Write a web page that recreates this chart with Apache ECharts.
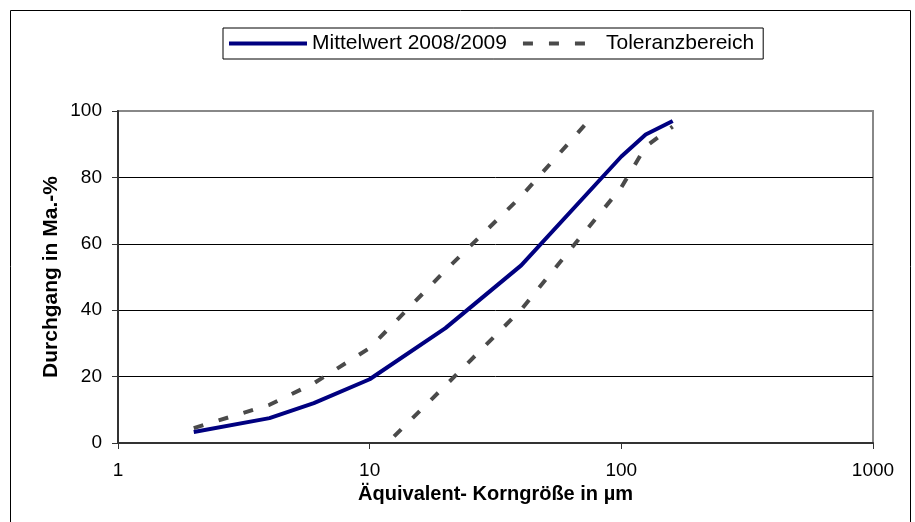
<!DOCTYPE html>
<html>
<head>
<meta charset="utf-8">
<script src="https://cdn.jsdelivr.net/npm/echarts@6/dist/echarts.min.js"></script>
<style>
  html, body { margin: 0; padding: 0; background: #fff; }
  #chart { width: 915px; height: 522px; }
</style>
</head>
<body>
<div id="chart"></div>
<script>
// grain size (µm) and passing (Ma.-%)
const meanSizes  = [2, 4, 6, 10, 20, 40, 100, 125, 160];
const meanValues = [3.3, 7.5, 12, 19.2, 34.6, 53.5, 86.3, 92.9, 97];

const upperSizes  = [2, 4, 6, 10, 20, 40, 75];
const upperValues = [4.5, 11.5, 18, 28.6, 52, 74.3, 97.5];

const lowerSizes  = [12.5, 20, 40, 100, 125, 160];
const lowerValues = [2, 17.3, 40.2, 77, 89.3, 95.3];

const yTicks = [0, 20, 40, 60, 80, 100];

function pairs(xs, ys) { return xs.map((x, i) => [x, ys[i]]); }

const font = "'Liberation Sans', Arial, sans-serif";
const tolStyle = { color: '#4a4a4a', width: 4, type: [10, 16], cap: 'butt' };

const chart = echarts.init(document.getElementById('chart'));

chart.setOption({
   animation: false,
   textStyle: { fontFamily: font },
   graphic: [
      { type: 'rect', shape: { x: 10.5, y: 10.5, width: 900, height: 540 },
        style: { fill: 'none', stroke: '#000', lineWidth: 1 }, silent: true }
   ],
   legend: {
      left: 223, top: 28,
      padding: [5, 9, 5, 4],
      itemWidth: 78, itemHeight: 14, itemGap: 14,
      borderColor: '#000', borderWidth: 1,
      itemStyle: { color: 'transparent', borderColor: 'transparent', borderWidth: 0 },
      lineStyle: { width: 4 },
      textStyle: { fontSize: 21, color: '#000', fontFamily: font },
      data: ['Mittelwert 2008/2009', 'Toleranzbereich']
   },
   grid: {
      left: 118, top: 111, width: 755, height: 332,
      show: true, borderColor: '#888', borderWidth: 2, backgroundColor: 'transparent'
   },
   xAxis: {
      type: 'log', logBase: 10, min: 1, max: 1000,
      name: 'Äquivalent- Korngröße in µm',
      nameLocation: 'middle', nameGap: 40,
      nameTextStyle: { fontSize: 20, fontWeight: 'bold', color: '#000', fontFamily: font },
      axisLine: { lineStyle: { color: '#333', width: 2 } },
      axisTick: { inside: false, length: 6, lineStyle: { color: '#333' } },
      minorTick: { show: false },
      splitLine: { show: false },
      axisLabel: { fontSize: 19, color: '#000', margin: 18, fontFamily: font,
                   formatter: v => String(Math.round(v)) }
   },
   yAxis: {
      type: 'value', min: 0, max: 100, interval: 20,
      name: 'Durchgang in Ma.-%',
      nameLocation: 'middle', nameGap: 56, nameRotate: 90, nameMoveOverlap: false,
      nameTextStyle: { fontSize: 21, fontWeight: 'bold', color: '#000', fontFamily: font },
      axisLine: { show: true, lineStyle: { color: '#333', width: 2 } },
      axisTick: { show: true, inside: false, length: 6, lineStyle: { color: '#333' } },
      splitLine: { show: true, lineStyle: { color: ['#000', '#000', '#000', '#000', '#000', '#888'], width: 1 } },
      axisLabel: { fontSize: 19, color: '#000', margin: 16, fontFamily: font,
                   formatter: v => yTicks.includes(v) ? String(v) : '' }
   },
   series: [
      {
         name: 'Mittelwert 2008/2009', type: 'line', symbol: 'none',
         data: pairs(meanSizes, meanValues),
         lineStyle: { color: '#000080', width: 4 }, itemStyle: { color: '#000080' }, z: 3
      },
      {
         name: 'Toleranzbereich', type: 'line', symbol: 'none',
         data: pairs(upperSizes, upperValues),
         lineStyle: tolStyle, itemStyle: { color: '#4a4a4a' }, z: 2
      },
      {
         name: 'Toleranzbereich', type: 'line', symbol: 'none',
         data: pairs(lowerSizes, lowerValues),
         lineStyle: tolStyle, itemStyle: { color: '#4a4a4a' }, z: 2
      }
   ]
});
</script>
</body>
</html>
